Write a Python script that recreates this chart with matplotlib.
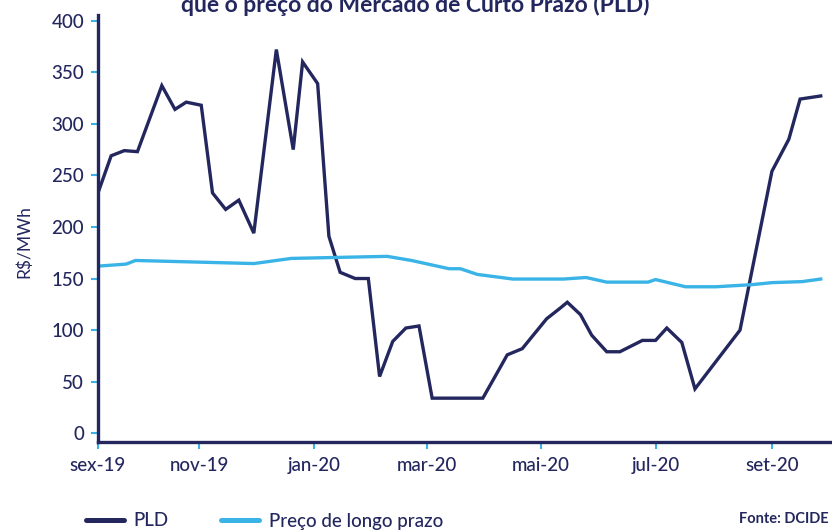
"""
PLD semanal x preço de longo prazo (R$/MWh)
"""

import pandas as pd
import matplotlib.pyplot as plt

# Dados
datas_pld = ['2019-09-08', '2019-09-15', '2019-09-22', '2019-09-29', '2019-10-12',
             '2019-10-19', '2019-10-25', '2019-11-02', '2019-11-08', '2019-11-15',
             '2019-11-22', '2019-11-30', '2019-12-12', '2019-12-21', '2019-12-26',
             '2020-01-03', '2020-01-09', '2020-01-15', '2020-01-23', '2020-01-30',
             '2020-02-05', '2020-02-12', '2020-02-19', '2020-02-26', '2020-03-04',
             '2020-03-31', '2020-04-09', '2020-04-13', '2020-04-21', '2020-05-04',
             '2020-05-11', '2020-05-15', '2020-05-22', '2020-05-28', '2020-06-05',
             '2020-06-12', '2020-06-24', '2020-07-01', '2020-07-07', '2020-07-15',
             '2020-07-22', '2020-08-15', '2020-09-01', '2020-09-10', '2020-09-16',
             '2020-09-27']
pld = [233, 269, 274, 273, 337,
       314, 321, 318, 233, 217,
       226, 194, 372, 275, 360,
       339, 191, 156, 150, 150,
       55, 89, 102, 104, 34,
       34, 63, 76, 82, 111,
       121, 127, 115, 95, 79,
       79, 90, 90, 102, 88,
       43, 100, 254, 285, 324,
       327]

datas_longo = ['2019-09-08', '2019-09-23', '2019-09-28', '2019-11-30', '2019-12-20',
               '2020-02-09', '2020-02-22', '2020-03-13', '2020-03-19', '2020-03-28',
               '2020-04-16', '2020-05-13', '2020-05-25', '2020-06-05', '2020-06-27',
               '2020-07-01', '2020-07-17', '2020-08-02', '2020-08-21', '2020-09-01',
               '2020-09-17', '2020-09-27']
longo = [162, 164, 167.5, 164.5, 169.5,
         171.5, 167.5, 159.5, 159.5, 154,
         149.5, 149.5, 151, 146.5, 146.5,
         149, 142, 142, 144, 146,
         147, 149.5]

ticks_datas = ['2019-09-08', '2019-11-01', '2020-01-01', '2020-03-01',
               '2020-05-01', '2020-07-01', '2020-09-01']
ticks_labels = ['sex-19', 'nov-19', 'jan-20', 'mar-20', 'mai-20', 'jul-20', 'set-20']

AZUL_ESCURO = '#23275e'
AZUL_CLARO = '#3ab4e6'

plt.rcParams['font.family'] = ['Lato', 'DejaVu Sans']
plt.rcParams['font.weight'] = 'medium'

fig = plt.figure(figsize=(8.32, 5.30), dpi=100)
ax = fig.add_axes([98 / 832, 88 / 530, 1 - 98 / 832, 427 / 530])

ax.plot(pd.to_datetime(datas_pld), pld, color=AZUL_ESCURO, lw=2.4,
        label='PLD', solid_joinstyle='miter')
ax.plot(pd.to_datetime(datas_longo), longo, color=AZUL_CLARO, lw=2.4,
        label='Preço de longo prazo')

ax.set_xlim(pd.Timestamp('2019-09-08'), pd.Timestamp('2020-10-03'))
ax.set_ylim(-8.5, 405.5)
ax.set_yticks(range(0, 401, 50))
ax.set_xticks(pd.to_datetime(ticks_datas))
ax.set_xticklabels(ticks_labels)

for s in ['top', 'right']:
    ax.spines[s].set_visible(False)
for s in ['left', 'bottom']:
    ax.spines[s].set_color(AZUL_ESCURO)
    ax.spines[s].set_linewidth(2.4)

ax.tick_params(axis='both', colors=AZUL_CLARO, labelcolor=AZUL_ESCURO,
               labelsize=13.5, width=1.5, length=5)
ax.tick_params(axis='y', pad=5)
ax.tick_params(axis='x', pad=6)

ax.set_ylabel('R$/MWh', color=AZUL_ESCURO, fontsize=12.5)
ax.yaxis.set_label_coords(-66 / 734, 0.47)

# titulo cortado no topo, como na imagem original
fig.text(415 / 832, 1 - 12 / 530, 'que o preço do Mercado de Curto Prazo (PLD)',
         ha='center', va='baseline', fontsize=16.5, fontweight='bold',
         color=AZUL_ESCURO)

leg = fig.legend(loc='center left', bbox_to_anchor=(86 / 832, 9 / 530),
                 ncol=2, frameon=False, fontsize=13.5, handlelength=2.0,
                 handletextpad=0.55, columnspacing=2.8, borderpad=0,
                 borderaxespad=0)
for t in leg.get_texts():
    t.set_color(AZUL_ESCURO)
for l in leg.get_lines():
    l.set_linewidth(3.6)
    l.set_solid_capstyle('round')

fig.text(829 / 832, 1 - 523 / 530, 'Fonte: DCIDE', ha='right', va='baseline',
         fontsize=10.5, fontweight='bold', color=AZUL_ESCURO)

fig.savefig('out.png', dpi=100)
